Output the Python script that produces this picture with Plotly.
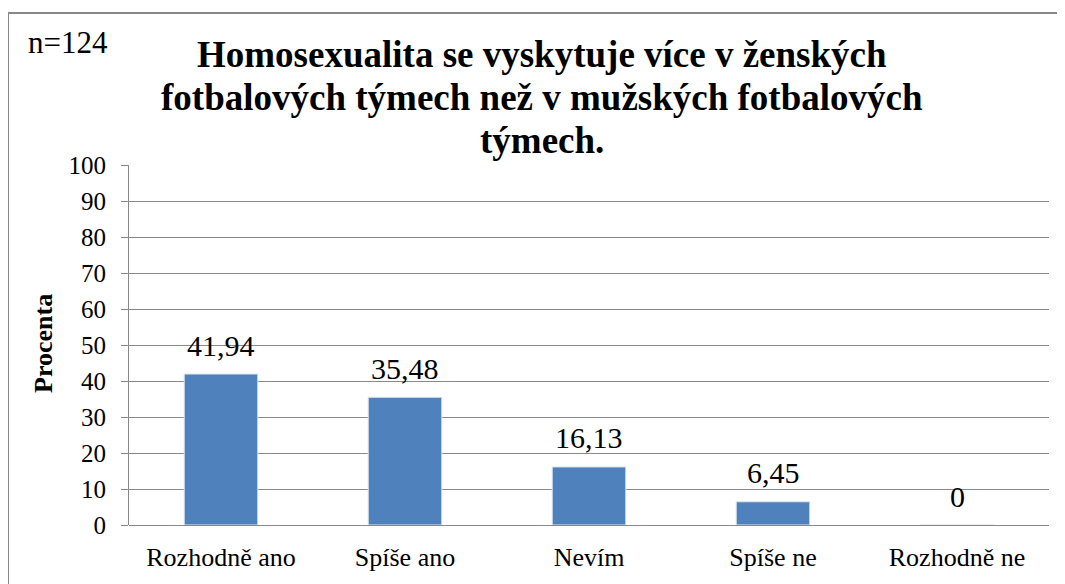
import plotly.graph_objects as go

categories = ["Rozhodně ano", "Spíše ano", "Nevím", "Spíše ne", "Rozhodně ne"]
values = [41.94, 35.48, 16.13, 6.45, 0]
value_labels = ["41,94", "35,48", "16,13", "6,45", "0"]
title_lines = ["Homosexualita se vyskytuje více v ženských",
               "fotbalových týmech než v mužských fotbalových",
               "týmech."]
y_ticks = list(range(0, 101, 10))

OFF = 8  # page body margin
W, H = 1065 - OFF, 584 - OFF
L, R, T, B = 129 - OFF, 16, 165 - OFF, 59
PW, PH = W - L - R, H - T - B

def px_x(x):
    return (x - OFF - L) / PW

def px_y(y):
    return (H - B - (y - OFF)) / PH

FONT = "Liberation Serif"
GRID = "#898989"

fig = go.Figure()
fig.add_trace(go.Bar(
    x=categories, y=values,
    marker=dict(color="#4F81BD", line=dict(color="#dfe6f0", width=1)),
    hoverinfo="skip",
))

annotations = []
for c, v, t in zip(categories, values, value_labels):
    annotations.append(dict(x=c, y=v, xref="x", yref="y", text=t, showarrow=False,
                            yanchor="middle", yshift=29,
                            font=dict(family=FONT, size=30, color="black")))

title_y = [54, 97, 140]
for line, yy in zip(title_lines, title_y):
    annotations.append(dict(x=px_x(542), y=px_y(yy), xref="paper", yref="paper",
                            text="<b>" + line + "</b>", showarrow=False,
                            xanchor="center", yanchor="middle",
                            font=dict(family=FONT, size=37, color="black")))

annotations.append(dict(x=px_x(26), y=px_y(42), xref="paper", yref="paper",
                        text="n=124", showarrow=False, xanchor="left", yanchor="middle",
                        font=dict(family=FONT, size=31, color="black")))
annotations.append(dict(x=px_x(43), y=px_y(344), xref="paper", yref="paper",
                        text="<b>Procenta</b>", showarrow=False, textangle=-90,
                        xanchor="center", yanchor="middle",
                        font=dict(family=FONT, size=26, color="black")))

fig.update_layout(
    width=W, height=H,
    margin=dict(l=L, r=R, t=T, b=B, autoexpand=False),
    paper_bgcolor="white", plot_bgcolor="white",
    showlegend=False, bargap=0.6,
    annotations=annotations,
    shapes=[dict(type="rect", xref="paper", yref="paper",
                 x0=px_x(8), x1=px_x(1090), y0=px_y(620), y1=px_y(13),
                 line=dict(color="#888888", width=2), layer="below")],
    xaxis=dict(showgrid=False, showline=False, ticks="", zeroline=False,
               tickfont=dict(family=FONT, size=26, color="black"),
               ticklabelstandoff=14),
    yaxis=dict(range=[0, 100], tickvals=y_ticks, showgrid=True, gridcolor=GRID, gridwidth=1,
               showline=True, linecolor=GRID, linewidth=1, ticks="outside", ticklen=7,
               tickcolor=GRID, zeroline=True, zerolinecolor=GRID, zerolinewidth=1,
               tickfont=dict(family=FONT, size=25, color="black"),
               ticklabelstandoff=10),
)

fig.write_html("out.html")
